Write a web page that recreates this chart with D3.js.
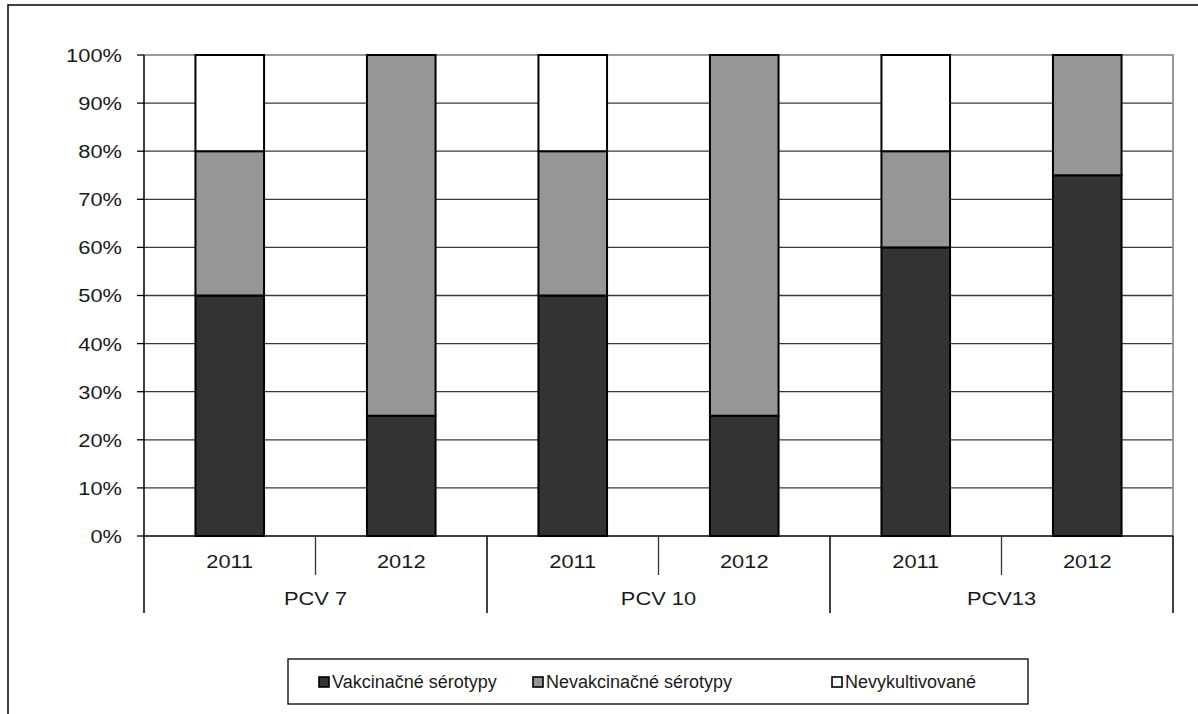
<!DOCTYPE html>
<html>
<head>
<meta charset="utf-8">
<script src="https://cdn.jsdelivr.net/npm/d3@7"></script>
<style>
  html, body { margin: 0; padding: 0; background: #fff; }
  svg { display: block; }
  text { font-family: "Liberation Sans", Arial, sans-serif; fill: #1a1a1a; }
</style>
</head>
<body>
<svg id="chart" width="1198" height="714"></svg>
<script>
// Vaccine groups, years within each group, and stacked shares (%)
const groups = ["PCV 7", "PCV 10", "PCV13"];
const years = ["2011", "2012"];
const seriesNames = ["Vakcinačné sérotypy", "Nevakcinačné sérotypy", "Nevykultivované"];
const vakcinacne   = [50, 25, 50, 25, 60, 75];
const nevakcinacne = [30, 75, 30, 75, 20, 25];
const nevykultiv   = [20,  0, 20,  0, 20,  0];
const yTicks = [0, 10, 20, 30, 40, 50, 60, 70, 80, 90, 100];

(function () {
const colors = ["#333333", "#969696", "#ffffff"];

const svg = d3.select("#chart");

// Outer frame
svg.append("rect")
  .attr("x", 8).attr("y", 5).attr("width", 1210).attr("height", 730)
  .attr("fill", "none").attr("stroke", "#000").attr("stroke-width", 1.5);

const plotL = 144, plotR = 1173, plotT = 55, plotB = 536;

// one band per (group, year)
const cats = [];
groups.forEach(g => years.forEach(yr => cats.push({ group: g, year: yr })));
const catKeys = cats.map((c, i) => i);

const x = d3.scaleBand().domain(catKeys).range([plotL, plotR])
  .paddingInner(0.6).paddingOuter(0.3);
const xg = d3.scaleBand().domain(groups).range([plotL, plotR]);
const y = d3.scaleLinear().domain([0, 100]).range([plotB, plotT]);

// text helper with optional horizontal stretch
function label(sel, tx, ty, str, anchor, size, sx) {
  return sel.append("text")
    .attr("transform", `translate(${tx},${ty}) scale(${sx},1)`)
    .attr("text-anchor", anchor || "middle")
    .attr("dominant-baseline", "central")
    .style("font-size", size + "px")
    .text(str);
}
const axisSize = 19, axisStretch = 1.15;

// Horizontal gridlines
svg.append("g").selectAll("line")
  .data(yTicks.filter(t => t > 0 && t < 100))
  .join("line")
  .attr("x1", plotL).attr("x2", plotR)
  .attr("y1", d => y(d)).attr("y2", d => y(d))
  .attr("stroke", "#3a3a3a").attr("stroke-width", 1.3);

// Plot border top/right (gray)
svg.append("path")
  .attr("d", `M${plotL},${y(100)}H${plotR}V${plotB}`)
  .attr("fill", "none").attr("stroke", "#999").attr("stroke-width", 2);

// Stacked bars
const table = cats.map((c, i) => ({
  key: i,
  [seriesNames[0]]: vakcinacne[i],
  [seriesNames[1]]: nevakcinacne[i],
  [seriesNames[2]]: nevykultiv[i]
}));
const stacked = d3.stack().keys(seriesNames)(table);

svg.append("g").selectAll("g")
  .data(stacked)
  .join("g")
  .attr("fill", (d, i) => colors[i])
  .selectAll("rect")
  .data(d => d.filter(p => p[1] - p[0] > 0))
  .join("rect")
  .attr("x", d => x(d.data.key))
  .attr("width", x.bandwidth())
  .attr("y", d => y(d[1]))
  .attr("height", d => y(d[0]) - y(d[1]))
  .attr("stroke", "#000").attr("stroke-width", 2);

// Y axis
const yAxisG = svg.append("g");
yAxisG.append("line")
  .attr("x1", plotL).attr("x2", plotL).attr("y1", plotT).attr("y2", 613)
  .attr("stroke", "#000").attr("stroke-width", 1.5);
yAxisG.selectAll("line.tick")
  .data(yTicks).join("line").attr("class", "tick")
  .attr("x1", plotL - 7).attr("x2", plotL)
  .attr("y1", d => y(d)).attr("y2", d => y(d))
  .attr("stroke", "#000").attr("stroke-width", 1.3);
yTicks.forEach(t => label(yAxisG, 122, y(t), t + "%", "end", axisSize, axisStretch));

// X axis baseline
svg.append("line")
  .attr("x1", plotL).attr("x2", plotR).attr("y1", plotB).attr("y2", plotB)
  .attr("stroke", "#000").attr("stroke-width", 1.5);

// Year separators inside groups and group separators
const xAxisG = svg.append("g");
groups.forEach((g) => {
  const gx0 = xg(g), gx1 = gx0 + xg.bandwidth();
  const mid = (gx0 + gx1) / 2;
  xAxisG.append("line")
    .attr("x1", mid).attr("x2", mid).attr("y1", plotB).attr("y2", 575)
    .attr("stroke", "#333").attr("stroke-width", 1.3);
  xAxisG.append("line")
    .attr("x1", gx1).attr("x2", gx1).attr("y1", plotB).attr("y2", 613)
    .attr("stroke", "#000").attr("stroke-width", 1.5);
  label(xAxisG, mid, 598, g, "middle", axisSize, axisStretch);
});
cats.forEach((c, i) => {
  label(xAxisG, x(i) + x.bandwidth() / 2, 561, c.year, "middle", axisSize, axisStretch);
});

// Legend
const lg = svg.append("g");
lg.append("rect")
  .attr("x", 288).attr("y", 659).attr("width", 740).attr("height", 45)
  .attr("fill", "#fff").attr("stroke", "#000").attr("stroke-width", 1.3);
const legendX = [318, 532, 831];
seriesNames.forEach((name, i) => {
  lg.append("rect")
    .attr("x", legendX[i] + 1).attr("y", 677)
    .attr("width", 10).attr("height", 10)
    .attr("fill", colors[i]).attr("stroke", "#000").attr("stroke-width", 1.6);
  label(lg, legendX[i] + 14, 682, name, "start", 18, 1);
});
})();
</script>
</body>
</html>
